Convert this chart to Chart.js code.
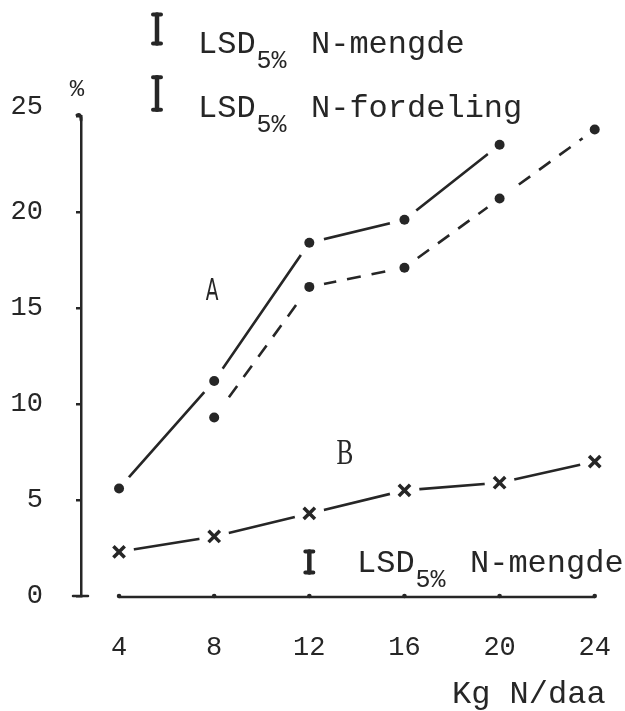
<!DOCTYPE html>
<html>
<head>
<meta charset="utf-8">
<style>
  html, body { margin: 0; padding: 0; background: #fff; }
  #wrap { width: 625px; height: 711px; }
</style>
<script src="https://cdn.jsdelivr.net/npm/chart.js@4.4.0/dist/chart.umd.min.js"></script>
</head>
<body>
<div id="wrap"><canvas id="myChart" width="625" height="711"></canvas></div>
<script>
// kg N/daa
var nLevels = [4, 8, 12, 16, 20, 24];
var xTicks = [4, 8, 12, 16, 20, 24];
var yTicks = [0, 5, 10, 15, 20, 25];
// curve A: solid and dashed, curve B: crosses
var aSolid = [5.6, 11.2, 18.4, 19.6, 23.5, null];
var aDashed = [null, 9.3, 16.1, 17.1, 20.7, 24.3];
var bSolid = [2.3, 3.1, 4.3, 5.5, 5.9, 7.0];
// LSD 5% bar lengths (%)
var lsdMengde = 1.5;
var lsdFordeling = 1.7;
var lsdMengdeB = 1.1;

var ink = "#262626";
var mono = "'Liberation Mono', 'DejaVu Sans Mono', monospace";

function toPoints(vals) {
  var out = [];
  for (var i = 0; i < nLevels.length; i++) {
    out.push({ x: nLevels[i], y: vals[i] });
  }
  return out;
}

function lineSet(vals, dash) {
  return {
    data: toPoints(vals),
    borderColor: ink,
    borderWidth: 2.6,
    borderDash: dash,
    pointRadius: 0,
    pointHoverRadius: 0,
    spanGaps: false,
    order: 2
  };
}

// marks; "gap" = white disc under each mark so lines stop short of it
function markSet(vals, style, r, bw) {
  return {
    data: toPoints(vals),
    showLine: false,
    pointStyle: style,
    pointRadius: r,
    pointHoverRadius: r,
    pointBackgroundColor: ink,
    pointBorderColor: ink,
    pointBorderWidth: bw,
    gap: 15,
    order: 1
  };
}

var gaps = {
  id: "gaps",
  beforeDatasetDraw: function (chart, args) {
    var ds = chart.data.datasets[args.index];
    if (!ds.gap) return;
    var ctx = chart.ctx;
    ctx.save();
    ctx.fillStyle = "#fff";
    args.meta.data.forEach(function (p) {
      if (p.skip || isNaN(p.x) || isNaN(p.y)) return;
      ctx.beginPath();
      ctx.arc(p.x, p.y, ds.gap, 0, Math.PI * 2);
      ctx.fill();
    });
    ctx.restore();
  }
};

var extras = {
  id: "extras",
  afterDraw: function (chart) {
    var ctx = chart.ctx;
    var xs = chart.scales.x;
    var ys = chart.scales.y;
    var y0 = ys.getPixelForValue(0);
    var yt = ys.getPixelForValue(25);
    var ax = ys.right;

    ctx.save();
    ctx.strokeStyle = ink;
    ctx.fillStyle = ink;
    ctx.lineCap = "round";

    // x axis only from first to last level, small bumps at the levels
    ctx.lineWidth = 2.5;
    ctx.beginPath();
    ctx.moveTo(xs.getPixelForValue(xTicks[0]), y0 + 1);
    ctx.lineTo(xs.getPixelForValue(xTicks[xTicks.length - 1]), y0 + 1);
    ctx.stroke();
    xTicks.forEach(function (v) {
      ctx.beginPath();
      ctx.arc(xs.getPixelForValue(v), y0, 2.3, 0, Math.PI * 2);
      ctx.fill();
    });

    // zero bar and the hook on top of the y axis
    ctx.beginPath();
    ctx.moveTo(ax - 8, y0);
    ctx.lineTo(ax + 7, y0);
    ctx.stroke();
    ctx.lineWidth = 3;
    ctx.beginPath();
    ctx.moveTo(ax - 4, yt - 1);
    ctx.quadraticCurveTo(ax, yt - 3, ax, yt + 4);
    ctx.stroke();

    ctx.font = "27px " + mono;
    ctx.textAlign = "right";
    ctx.textBaseline = "middle";
    ctx.fillText("25", 43, yt - 9);
    ctx.font = "24px " + mono;
    ctx.textAlign = "center";
    ctx.fillText("%", 77, 90);

    function ibar(x, yc, len) {
      var half = (y0 - ys.getPixelForValue(len)) / 2;
      ctx.lineWidth = 4.5;
      ctx.beginPath();
      ctx.moveTo(x, yc - half);
      ctx.lineTo(x, yc + half);
      ctx.stroke();
      ctx.lineWidth = 4;
      ctx.beginPath();
      ctx.moveTo(x - 4, yc - half);
      ctx.lineTo(x + 4, yc - half);
      ctx.moveTo(x - 4, yc + half);
      ctx.lineTo(x + 4, yc + half);
      ctx.stroke();
    }

    function lsd(x, base, txt) {
      ctx.textAlign = "left";
      ctx.textBaseline = "alphabetic";
      ctx.font = "32px " + mono;
      ctx.fillText("LSD", x, base);
      var w = ctx.measureText("LSD").width;
      ctx.font = "25px " + mono;
      ctx.fillText("5%", x + w + 1, base + 15);
      ctx.font = "32px " + mono;
      ctx.fillText(txt, x + 113, base);
    }

    ibar(157, 29, lsdMengde);
    lsd(198, 53, "N-mengde");
    ibar(157, 93.5, lsdFordeling);
    lsd(198, 117, "N-fordeling");
    ibar(xs.getPixelForValue(12), 562, lsdMengdeB);
    lsd(357, 572, "N-mengde");

    // curve names
    ctx.textAlign = "center";
    ctx.textBaseline = "middle";
    ctx.save();
    ctx.translate(212, 292);
    ctx.scale(0.62, 1);
    ctx.font = "30px 'DejaVu Sans'";
    ctx.fillText("A", 0, 0);
    ctx.restore();
    ctx.save();
    ctx.translate(345, 455);
    ctx.scale(0.7, 1);
    ctx.font = "36px 'Liberation Serif'";
    ctx.fillText("B", 0, 0);
    ctx.restore();

    // axis title
    ctx.textAlign = "left";
    ctx.textBaseline = "alphabetic";
    ctx.font = "32px " + mono;
    ctx.fillText("Kg N/daa", 452, 703);
    ctx.restore();
  }
};

new Chart(document.getElementById("myChart"), {
  type: "line",
  data: {
    datasets: [
      markSet(aSolid, "circle", 5, 0),
      markSet(aDashed, "circle", 5, 0),
      markSet(bSolid, "crossRot", 8, 3.5),
      lineSet(aSolid, []),
      lineSet(aDashed, [14, 11]),
      lineSet(bSolid, [])
    ]
  },
  options: {
    responsive: false,
    animation: false,
    events: [],
    layout: { padding: { top: 116, right: 16, left: 0, bottom: 0 } },
    plugins: { legend: { display: false }, tooltip: { enabled: false } },
    scales: {
      x: {
        type: "linear",
        min: 2.4,
        max: 24.6,
        afterBuildTicks: function (s) {
          s.ticks = xTicks.map(function (v) { return { value: v }; });
        },
        afterFit: function (s) {
          s.height = 115;
          s.paddingLeft = 0;
          s.paddingRight = 0;
        },
        grid: { display: false },
        border: { display: false },
        ticks: {
          color: ink,
          font: { family: mono, size: 27 },
          padding: 28,
          maxRotation: 0,
          autoSkip: false
        }
      },
      y: {
        type: "linear",
        min: 0,
        max: 25,
        afterBuildTicks: function (s) {
          s.ticks = yTicks.map(function (v) { return { value: v }; });
        },
        afterFit: function (s) {
          s.width = 81;
          s.paddingTop = 0;
          s.paddingBottom = 0;
        },
        grid: { drawOnChartArea: false, tickLength: 5, color: ink, lineWidth: 2.5 },
        border: { display: true, color: ink, width: 2.5 },
        ticks: {
          color: ink,
          font: { family: mono, size: 27 },
          padding: 33,
          callback: function (v) { return v === 25 ? "" : v; }
        }
      }
    }
  },
  plugins: [gaps, extras]
});
</script>
</body>
</html>
